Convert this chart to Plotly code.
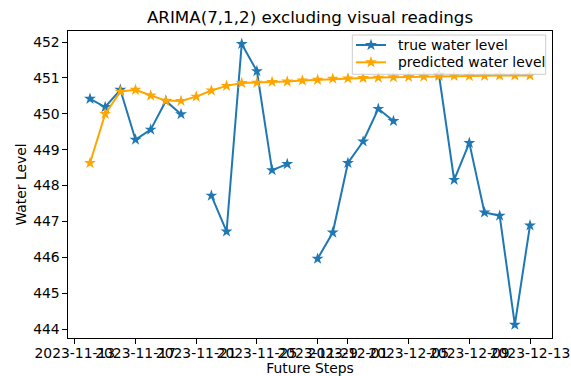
import pandas as pd
import plotly.graph_objects as go

# Daily forecast horizon
dates = pd.date_range("2023-11-14", "2023-12-13", freq="D")

# Observed water level (None = no reading that day)
true_level = [
    450.42, 450.19, 450.67, 449.28, 449.56, 450.36, 449.99, None,
    447.72, 446.72, 451.95, 451.19, 448.43, 448.60, None,
    445.96, 446.69, 448.63, 449.23, 450.14, 449.80, None, None,
    451.09, 448.16, 449.19, 447.25, 447.16, 444.12, 446.89,
]

# ARIMA(7,1,2) forecast
predicted_level = [
    448.63, 450.00, 450.62, 450.67, 450.51, 450.37, 450.36, 450.48,
    450.65, 450.78, 450.86, 450.87, 450.89, 450.90, 450.93, 450.95,
    450.98, 450.99, 451.00, 451.01, 451.02, 451.03, 451.04, 451.05,
    451.06, 451.06, 451.06, 451.07, 451.07, 451.07,
]

series_names = ["true water level", "predicted water level"]

x_ticks = ["2023-11-13", "2023-11-17", "2023-11-21", "2023-11-25", "2023-11-29",
           "2023-12-01", "2023-12-05", "2023-12-09", "2023-12-13"]
y_ticks = [444, 445, 446, 447, 448, 449, 450, 451, 452]

FONT = "DejaVu Sans"
BLUE = "#1f77b4"
ORANGE = "orange"
colors = [BLUE, ORANGE]

fig = go.Figure()
for name, values, color in zip(series_names, [true_level, predicted_level], colors):
    fig.add_trace(go.Scatter(
        x=dates, y=values, mode="lines+markers", name=name,
        line=dict(color=color, width=2), connectgaps=False,
        marker=dict(symbol="star", size=9, color=color),
        showlegend=False,
    ))

# Legend box, drawn on an overlay axis pair spanning the plot area in [0, 1]
box_x = [0.5874, 0.9870]
box_y = [0.8590, 0.9870]
row_y = [0.9544, 0.8980]
sample_x = [0.5950, 0.6570]
text_x = 0.6771

fig.add_trace(go.Scatter(
    x=[box_x[0], box_x[1], box_x[1], box_x[0], box_x[0]],
    y=[box_y[0], box_y[0], box_y[1], box_y[1], box_y[0]],
    xaxis="x2", yaxis="y2", mode="lines", fill="toself",
    fillcolor="rgba(255,255,255,0.8)", line=dict(color="#cccccc", width=1),
    showlegend=False, hoverinfo="skip",
))
for name, color, ry in zip(series_names, colors, row_y):
    fig.add_trace(go.Scatter(
        x=sample_x, y=[ry, ry], xaxis="x2", yaxis="y2", mode="lines",
        line=dict(color=color, width=2), showlegend=False, hoverinfo="skip",
    ))
    fig.add_trace(go.Scatter(
        x=[sum(sample_x) / 2], y=[ry], xaxis="x2", yaxis="y2", mode="markers",
        marker=dict(symbol="star", size=9, color=color),
        showlegend=False, hoverinfo="skip",
    ))
    fig.add_annotation(
        x=text_x, y=ry, xref="x2", yref="y2", text=name, showarrow=False,
        xanchor="left", yanchor="middle",
        font=dict(family=FONT, size=13.9, color="black"),
    )

axis_common = dict(
    showline=True, linecolor="black", linewidth=1.1, mirror=True,
    ticks="outside", ticklen=4.5, tickwidth=1.1, tickcolor="black",
    showgrid=False, zeroline=False, automargin=False,
    tickfont=dict(family=FONT, size=13.9, color="black"),
)

fig.update_layout(
    width=571, height=376,
    margin=dict(l=68, r=19, t=31, b=38),
    paper_bgcolor="white", plot_bgcolor="white",
    font=dict(family=FONT, size=13.9, color="black"),
    title=dict(text="ARIMA(7,1,2) excluding visual readings",
               x=0.543, xref="container", xanchor="center",
               y=1 - 17 / 376, yref="container", yanchor="middle",
               font=dict(family=FONT, size=16.7, color="black")),
    showlegend=False,
    xaxis=dict(
        **axis_common,
        type="date",
        range=["2023-11-12 13:12", "2023-12-14 10:48"],
        tickmode="array", tickvals=x_ticks, ticktext=x_ticks, tickangle=0,
        ticklabelstandoff=-2,
        title=dict(text="Future Steps", standoff=3,
                   font=dict(family=FONT, size=13.9, color="black")),
    ),
    yaxis=dict(
        **axis_common,
        range=[443.75, 452.31],
        tickmode="array", tickvals=y_ticks, ticktext=[str(v) for v in y_ticks],
        title=dict(text="Water Level", standoff=3,
                   font=dict(family=FONT, size=13.9, color="black")),
    ),
    xaxis2=dict(overlaying="x", range=[0, 1], visible=False, fixedrange=True),
    yaxis2=dict(overlaying="y", range=[0, 1], visible=False, fixedrange=True),
)

fig.write_html("out.html")
